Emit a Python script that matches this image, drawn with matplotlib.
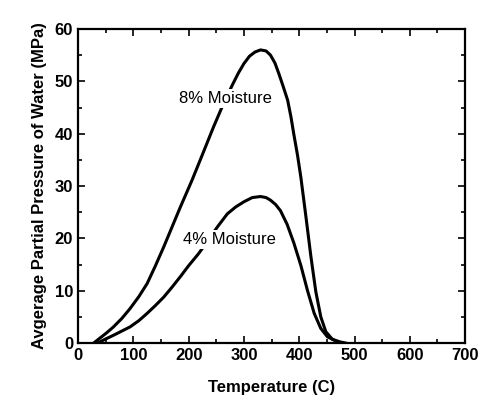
import numpy as np
import matplotlib
matplotlib.use("Agg")
import matplotlib.pyplot as plt
from matplotlib.ticker import MultipleLocator

plt.rcParams.update({"font.family": "Liberation Sans"})

# 8% moisture curve
t8 = [28, 40, 52, 64, 79, 94, 110, 125, 140, 155, 170, 185, 206, 221, 245, 262,
      279, 290, 300, 310, 320, 330, 340, 348, 356, 363, 371, 379, 385, 390, 397,
      403, 412, 421, 430, 439, 448, 460, 475, 485]
p8 = [0, 1, 2, 3.1, 4.7, 6.6, 8.9, 11.4, 14.8, 18.4, 22.2, 26, 31.1, 35, 41.3, 45.5,
      49.3, 51.6, 53.4, 54.8, 55.6, 56, 55.8, 55, 53.5, 51.5, 49, 46.4, 43.2, 40.0, 35.8,
      31.6, 24.2, 16.6, 9.8, 5.0, 2.2, 0.7, 0.2, 0]
# 4% moisture curve
t4 = [35, 50, 64, 79, 94, 110, 125, 140, 155, 170, 185, 200, 218, 235, 252, 270,
      285, 300, 315, 330, 340, 348, 357, 366, 378, 390, 403, 415, 427, 439, 451,
      463, 475]
p4 = [0, 0.8, 1.5, 2.3, 3.1, 4.3, 5.7, 7.2, 8.8, 10.7, 12.7, 14.8, 17.1, 19.6, 22.2,
      24.7, 26.0, 27.0, 27.8, 28, 27.8, 27.3, 26.5, 25.3, 22.7, 19.2, 14.8, 10.0, 5.7,
      2.8, 1.2, 0.6, 0]

fig = plt.figure(figsize=(4.82, 4.08), dpi=100)
ax = fig.add_axes([0.162, 0.159, 0.803, 0.770])
ax.plot(t8, p8, color="black", lw=2.2, solid_capstyle="round", solid_joinstyle="round")
ax.plot(t4, p4, color="black", lw=2.2, solid_capstyle="round", solid_joinstyle="round")

ax.text(267, 46.8, "8% Moisture", ha="center", va="center", fontsize=12,
        bbox=dict(fc="white", ec="none", pad=1.5))
ax.text(273, 19.7, "4% Moisture", ha="center", va="center", fontsize=12,
        bbox=dict(fc="white", ec="none", pad=1.5))

ax.set_xlim(0, 700); ax.set_ylim(0, 60)
ax.xaxis.set_major_locator(MultipleLocator(100))
ax.xaxis.set_minor_locator(MultipleLocator(50))
ax.yaxis.set_major_locator(MultipleLocator(10))
ax.yaxis.set_minor_locator(MultipleLocator(5))
ax.tick_params(which="both", direction="in", top=True, right=True, width=1.2)
ax.tick_params(which="major", length=5, labelsize=12)
ax.tick_params(which="minor", length=3)
for lbl in ax.get_xticklabels() + ax.get_yticklabels():
    lbl.set_fontweight("bold")
for s in ax.spines.values():
    s.set_linewidth(1.6)

ax.set_xlabel("Temperature (C)", fontsize=12, fontweight="bold", labelpad=12)
ax.set_ylabel("Avgerage Partial Pressure of Water (MPa)", fontsize=12,
              fontweight="bold", labelpad=6)

plt.savefig("out.png")
